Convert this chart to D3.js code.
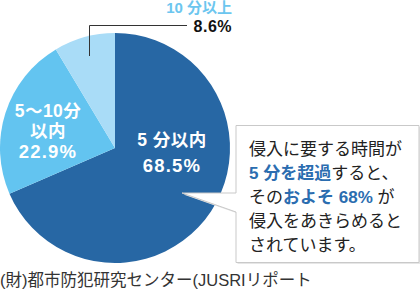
<!DOCTYPE html>
<html>
<head>
<meta charset="utf-8">
<script src="https://cdn.jsdelivr.net/npm/d3@7"></script>
<style>
  body { margin: 0; background: #fff; }
  svg { display: block; font-family: "Liberation Sans", "Noto Sans CJK JP", sans-serif; }
</style>
</head>
<body>
<div id="chart"></div>
<script>
// 侵入をあきらめる時間
const categories = ['5分以内', '5〜10分以内', '10分以上'];
const values = [68.5, 22.9, 8.6];
const sliceColors = ['#2767a4', '#63c4f0', '#a9dcf7'];
const sourceNote = '(財)都市防犯研究センター(JUSRIリポート';

// callout lines: [text, highlighted?]
const calloutLines = [
  [['侵入に要する時間が', false]],
  [['5 分を超過', true], ['すると、', false]],
  [['その', false], ['およそ 68%', true], [' が', false]],
  [['侵入をあきらめると', false]],
  [['されています。', false]]
];

const width = 420;
const height = 294;
const cx = 115, cy = 148, radius = 115;

const svg = d3.select('#chart').append('svg')
  .attr('width', width)
  .attr('height', height);

const pie = d3.pie().sort(null).value(d => d)
  .startAngle(0).endAngle(2 * Math.PI);
const arcs = pie(values);

const arc = d3.arc().innerRadius(0).outerRadius(radius);

const g = svg.append('g')
  .attr('transform', 'translate(' + cx + ',' + cy + ')');

g.selectAll('path.slice')
  .data(arcs)
  .enter().append('path')
  .attr('class', 'slice')
  .attr('d', arc)
  .attr('fill', (d, i) => sliceColors[i]);

// labels inside the slices
const inside = [
  { x: 57, ys: [-2, 24], lines: ['5 分以内', values[0] + '%'] },
  { x: -67, ys: [-31, -11, 10], lines: ['5〜10分', '以内', values[1] + '%'] }
];
inside.forEach(lab => {
  lab.lines.forEach((s, k) => {
    const isNum = s.endsWith('%');
    g.append('text')
      .attr('x', lab.x)
      .attr('y', lab.ys[k])
      .attr('text-anchor', 'middle')
      .attr('fill', '#fff')
      .attr('font-weight', 700)
      .attr('font-size', isNum ? 18.5 : 17.5)
      .attr('letter-spacing', isNum ? 1.2 : 0.5)
      .text(s);
  });
});

// leader line for the small slice
const small = arcs[2];
const midA = (small.startAngle + small.endAngle) / 2;
const lineX = cx + Math.round(Math.sin(midA) * radius * 0.85);
svg.append('polyline')
  .attr('points', [[lineX + 0.5, 56], [lineX + 0.5, 25.5], [187, 25.5]].map(p => p.join(',')).join(' '))
  .attr('fill', 'none')
  .attr('stroke', '#333')
  .attr('stroke-width', 1);

svg.append('text')
  .attr('x', 232).attr('y', 13)
  .attr('text-anchor', 'end')
  .attr('fill', '#6cc6ef')
  .attr('font-weight', 700)
  .attr('font-size', 15)
  .text(categories[2].replace('10', '10 '));

svg.append('text')
  .attr('x', 232).attr('y', 32)
  .attr('text-anchor', 'end')
  .attr('fill', '#111')
  .attr('font-weight', 700)
  .attr('font-size', 16)
  .attr('letter-spacing', 0.5)
  .text(values[2] + '%');

// callout box with pointer
const bx = 236, by = 125.5, bw = 183, bh = 137;
const tip = [182, 193];
const box = d3.path();
box.moveTo(bx, by);
box.lineTo(bx + bw, by);
box.lineTo(bx + bw, by + bh);
box.lineTo(bx, by + bh);
box.lineTo(bx, 212);
box.lineTo(tip[0], tip[1]);
box.lineTo(bx, 193);
box.closePath();

svg.append('path')
  .attr('d', box.toString())
  .attr('transform', 'translate(1.5,1.5)')
  .attr('fill', '#e6e6e6');
svg.append('path')
  .attr('d', box.toString())
  .attr('fill', '#fff')
  .attr('stroke', '#c9c9c9')
  .attr('stroke-width', 1);

const ct = svg.append('text')
  .attr('font-size', 17)
  .attr('fill', '#222');
calloutLines.forEach((line, k) => {
  line.forEach((part, j) => {
    const sp = ct.append('tspan')
      .attr('fill', part[1] ? '#2b6db0' : '#222')
      .attr('font-weight', part[1] ? 700 : 400)
      .text(part[0]);
    if (j === 0) sp.attr('x', 249).attr('y', 155 + k * 24);
  });
});

// source
svg.append('text')
  .attr('x', 0).attr('y', 286)
  .attr('font-size', 16.5)
  .attr('fill', '#333')
  .text(sourceNote);
</script>
</body>
</html>
